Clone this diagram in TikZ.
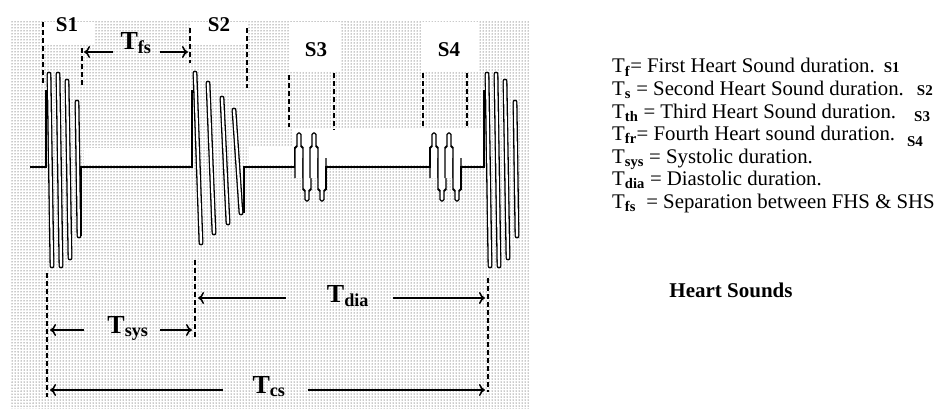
\documentclass[tikz,border=0pt]{standalone}
\usepackage{fontspec}
\setmainfont{Liberation Serif}
\usetikzlibrary{arrows.meta,patterns}

\newcommand{\tsub}[1]{\textsubscript{\bfseries #1}}
\newcommand{\stag}[1]{{\fontsize{15}{16}\selectfont\bfseries #1}}

\begin{document}
\begin{tikzpicture}[x=1pt,y=-1pt,
    trace/.style={line width=2.4pt},
    hspike/.style={line width=1.3pt, double=white, double distance=2.3pt, line cap=round},
    bulb/.style={line width=1.4pt, fill=white, rounded corners=1.5pt},
    marker/.style={line width=2pt, dash pattern=on 5pt off 3pt},
    dimarrow/.style={line width=1.5pt, -{Computer Modern Rightarrow[length=6pt,width=12pt]}},
    slabel/.style={font=\fontsize{21}{24}\selectfont\bfseries, inner sep=0pt},
    tlabel/.style={font=\fontsize{26}{28}\selectfont\bfseries, inner sep=0pt, anchor=base},
    legend/.style={font=\fontsize{20.8}{23}\selectfont, inner sep=0pt, anchor=base west}]
  \useasboundingbox (0,0) rectangle (952,412);

  % dotted chart paper
  \fill[pattern=dots, pattern color=black!90] (10,22) rectangle (530,408);
  \fill[white] (42,22) rectangle (95,45);
  \fill[white] (190,22) rectangle (247,45);
  \fill[white] (289,22) rectangle (340,72);
  \fill[white] (421,22) rectangle (478,72);
  \fill[white] (84,148) rectangle (190,164);
  \fill[white] (249,147) rectangle (292,164);
  \fill[white] (292,128) rectangle (484,164);

  % S1
  \foreach \xa/\ya/\xb/\yb in {49/74/52/266, 58/74/61/266, 67/81/70/258, 77/102/79/236}
    \draw[hspike] (\xa,\ya) -- (\xb,\yb);
  \draw[trace] (30,167) -- (46,167) -- (46,90);
  \draw[trace] (81,236) -- (81,167) -- (192,167) -- (192,90);

  % S2
  \foreach \xa/\ya/\xb/\yb in {195/73/201/243, 208/83/214/233, 222/98/228/223, 234/110/241/213}
    \draw[hspike] (\xa,\ya) -- (\xb,\yb);
  \draw[trace] (244,213) -- (244,167) -- (295,167) -- (295,147);

  % S3 and S4
  \foreach \dx in {0,15,135,150} {
    \draw[bulb] (295+\dx,178) -- (295+\dx,147) -- (297+\dx,147) -- (297+\dx,133)
      -- (301+\dx,133) -- (301+\dx,147) -- (303+\dx,147) -- (303+\dx,178);
    \draw[bulb] (303+\dx,158) -- (303+\dx,190) -- (305+\dx,190) -- (305+\dx,201)
      -- (309+\dx,201) -- (309+\dx,190) -- (311+\dx,190) -- (311+\dx,158);
  }
  \draw[trace] (326,190) -- (326,167) -- (430,167) -- (430,147);
  \draw[trace] (461,190) -- (461,167) -- (484,167) -- (484,90);

  % next S1
  \begin{scope}[xshift=438pt]
    \foreach \xa/\ya/\xb/\yb in {49/74/52/266, 58/74/61/266, 67/81/70/258, 77/102/79/236}
      \draw[hspike] (\xa,\ya) -- (\xb,\yb);
  \end{scope}

  % dashed markers
  \foreach \x/\ya/\yb in {43/22/83, 82/48/85, 190/28/63, 247/28/88, 289/75/127,
      334/73/130, 423/73/128, 467/73/128, 47/273/397, 195/260/338, 488/278/392}
    \draw[marker] (\x,\ya) -- (\x,\yb);

  % sound labels
  \node[slabel] (s1lab) at (67,25) {S1};
  \node[slabel] (s2lab) at (219,25) {S2};
  \node[slabel] (s3lab) at (316,50) {S3};
  \node[slabel] (s4lab) at (449,50) {S4};

  % durations
  \node[tlabel] (tfs) at (136,49) {T\textsubscript{fs}};
  \node[tlabel] (tsys) at (128,333) {T\textsubscript{sys}};
  \node[tlabel] (tdia) at (348,302) {T\textsubscript{dia}};
  \node[tlabel] (tcs) at (269,393) {T\textsubscript{cs}};
  \coordinate (fsL) at (84,52);
  \coordinate (fsR) at (188,52);
  \coordinate (sysL) at (50,330);
  \coordinate (sysR) at (192,330);
  \coordinate (diaL) at (198,298);
  \coordinate (diaR) at (485,298);
  \coordinate (csL) at (50,390);
  \coordinate (csR) at (485,390);
  \draw[dimarrow, shorten <=7pt] (tfs.west |- fsL) -- (fsL);
  \draw[dimarrow, shorten <=8pt] (tfs.east |- fsR) -- (fsR);
  \draw[dimarrow, shorten <=23pt] (tsys.west |- sysL) -- (sysL);
  \draw[dimarrow, shorten <=11pt] (tsys.east |- sysR) -- (sysR);
  \draw[dimarrow, shorten <=41pt] (tdia.west |- diaL) -- (diaL);
  \draw[dimarrow, shorten <=24pt] (tdia.east |- diaR) -- (diaR);
  \draw[dimarrow, shorten <=29pt] (tcs.west |- csL) -- (csL);
  \draw[dimarrow, shorten <=22pt] (tcs.east |- csR) -- (csR);

  % legend
  \node[legend] (lg1) at (612,73) {T\tsub{f}= First Heart Sound duration.\hspace{9pt}\stag{S1}};
  \node[legend] (lg2) at (612,95.5) {T\tsub{s} = Second Heart Sound duration.\hspace{13pt}\stag{S2}};
  \node[legend] (lg3) at (612,118) {T\tsub{th} = Third Heart Sound duration.\hspace{18pt}\raisebox{-3pt}{\stag{S3}}};
  \node[legend] (lg4) at (612,140.5) {T\tsub{fr}= Fourth Heart sound duration.\hspace{12pt}\raisebox{-6pt}{\stag{S4}}};
  \node[legend] (lg5) at (612,163) {T\tsub{sys} = Systolic duration.};
  \node[legend] (lg6) at (612,185.5) {T\tsub{dia} = Diastolic duration.};
  \node[legend] (lg7) at (612,208) {T\tsub{fs}\ \ = Separation between FHS \& SHS};
  \node[font=\fontsize{21}{24}\selectfont\bfseries, anchor=base] (title) at (731,297) {Heart Sounds};
\end{tikzpicture}
\end{document}
